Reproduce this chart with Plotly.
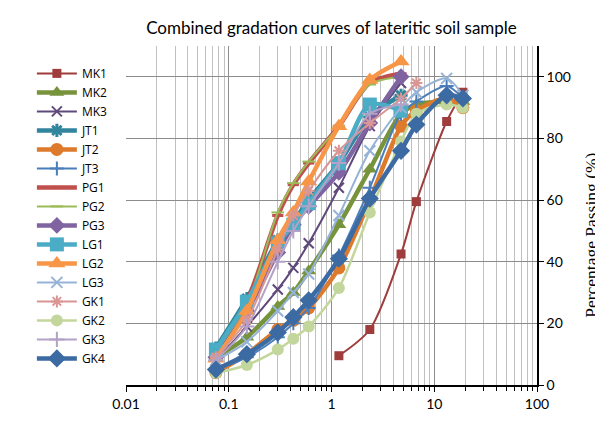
import plotly.graph_objects as go

# Sieve sizes (mm)
sieve_fine = [0.075, 0.15, 0.3, 0.425, 0.6, 1.18, 2.36, 4.75]
sieve_full = [0.075, 0.15, 0.3, 0.425, 0.6, 1.18, 2.36, 4.75, 6.7, 13.2, 19]
sieve_gk1 = [0.075, 0.15, 0.3, 0.425, 0.6, 1.18, 2.36, 4.75, 6.7]
sieve_mk1 = [1.18, 2.36, 4.75, 6.7, 13.2, 19]

MK1 = [9.5, 18, 42.5, 59.5, 85.5, 95]
MK2 = [9, 15.5, 25.5, 30, 37, 52, 70, 88, 91, 92, 92]
MK3 = [8, 19, 31, 38, 46, 64, 84, 98]
JT1 = [12, 28, 47, 53, 60, 72, 87, 94]
JT2 = [4, 10, 18, 21, 25, 38, 60, 84, 89, 93, 90]
JT3 = [5, 9, 15.5, 20, 25, 42, 64, 88, 92, 97, 93]
PG1 = [10, 27, 55, 65, 72, 84, 98, 101]
PG2 = [10, 26, 56, 65.5, 72.5, 84, 97.5, 100]
PG3 = [9, 24, 43, 52, 58, 69, 85, 100]
LG1 = [11.5, 27, 46, 52, 59, 72, 91, 89]
LG2 = [8.5, 24, 47, 56, 66, 84, 99, 105]
LG3 = [8, 14, 24, 30, 36, 55, 76, 90, 95, 99.5, 94]
GK1 = [9, 21, 44, 55, 63, 76, 85, 93, 98]
GK2 = [3.9, 6.5, 11.5, 15, 19, 31.5, 56, 79, 88, 91, 90]
GK3 = [8, 19, 40, 50, 58, 72, 88, 91]
GK4 = [5, 10, 17, 22, 27.5, 41, 60.5, 76, 84.5, 94, 93]

x_ticks = [0.01, 0.1, 1, 10, 100]
x_ticklabels = ["0.01", "0.1", "1", "10", "100"]
y_ticks = [0, 20, 40, 60, 80, 100]

series = [
    ("MK1", sieve_mk1, MK1, "#9E3D3B", 2, "square", 9, False),
    ("MK2", sieve_full, MK2, "#77933C", 4.5, "triangle-up", 13, False),
    ("MK3", sieve_fine, MK3, "#5F497A", 2, "x-thin-open", 10, True),
    ("JT1", sieve_fine, JT1, "#31859C", 4.5, "asterisk-open", 11, True),
    ("JT2", sieve_full, JT2, "#DD7A2B", 4.5, "circle", 13, False),
    ("JT3", sieve_full, JT3, "#4A7EBB", 2, "cross-thin-open", 10, True),
    ("PG1", sieve_fine, PG1, "#C0504D", 4.5, "line-ew-open", 8, True),
    ("PG2", sieve_fine, PG2, "#9BBB59", 2, "line-ew-open", 9, True),
    ("PG3", sieve_fine, PG3, "#8064A2", 4.5, "diamond", 13, False),
    ("LG1", sieve_fine, LG1, "#4BACC6", 4.5, "square", 14, False),
    ("LG2", sieve_fine, LG2, "#F79646", 4.5, "triangle-up", 15, False),
    ("LG3", sieve_full, LG3, "#95B3D7", 2, "x-thin-open", 11, True),
    ("GK1", sieve_gk1, GK1, "#D99694", 2, "asterisk-open", 10, True),
    ("GK2", sieve_full, GK2, "#C3D69B", 2.5, "circle", 12, False),
    ("GK3", sieve_fine, GK3, "#B3A2C7", 2, "cross-thin-open", 11, True),
    ("GK4", sieve_full, GK4, "#3C6AA3", 4.5, "diamond", 14, False),
]

fig = go.Figure()
for name, xs, ys, col, lw, sym, ms, openm in series:
    marker = dict(symbol=sym, size=ms, color=col)
    if openm:
        marker["line"] = dict(color=col, width=2 if lw < 3 else 3)
    else:
        marker["line"] = dict(width=0)
    fig.add_trace(go.Scatter(
        x=xs, y=ys, name=name, mode="lines+markers",
        line=dict(color=col, width=lw, shape="spline", smoothing=0.8),
        marker=marker,
    ))

# page body has an 8px margin, so the figure is 8px smaller than the window
fig.update_layout(
    width=595, height=418,
    margin=dict(l=118, r=66, t=38, b=41),
    paper_bgcolor="white", plot_bgcolor="white",
    font=dict(family="Lato, Open Sans, sans-serif", size=12, color="black"),
    title=dict(text="Combined gradation curves of lateritic soil sample",
               x=0.5, xref="paper", y=0.952, yanchor="middle",
               font=dict(size=17, family="Lato, Open Sans, sans-serif")),
    legend=dict(x=-0.229, xanchor="left", y=0.962, yanchor="top",
                bgcolor="rgba(0,0,0,0)",
                font=dict(size=12, family="Open Sans, sans-serif"),
                itemwidth=40, tracegroupgap=0),
    showlegend=True,
    annotations=[dict(
        text="Percentage Passing (%)", textangle=-90,
        xref="paper", yref="paper", x=1.1314, y=0.44,
        xanchor="center", yanchor="middle", showarrow=False,
        font=dict(family="Liberation Serif, Times New Roman, serif", size=17.5),
    )],
)
fig.update_xaxes(
    type="log", range=[-2, 2],
    tickvals=x_ticks, ticktext=x_ticklabels,
    showgrid=True, gridcolor="#8C8C8C", gridwidth=1,
    minor=dict(dtick="D1", showgrid=True, gridcolor="#C0C0C0", gridwidth=1,
               ticks="outside", ticklen=4, tickcolor="black"),
    showline=True, linecolor="black", linewidth=1.5,
    ticks="outside", ticklen=5, tickcolor="black",
    zeroline=False, tickfont=dict(size=14),
)
fig.update_yaxes(
    side="right", range=[0, 110],
    tickvals=y_ticks,
    showgrid=True, gridcolor="#8C8C8C", gridwidth=1,
    showline=True, linecolor="black", linewidth=1.5,
    ticks="outside", ticklen=5, tickcolor="black",
    zeroline=False, tickfont=dict(size=14),
)

fig.write_html("out.html")
